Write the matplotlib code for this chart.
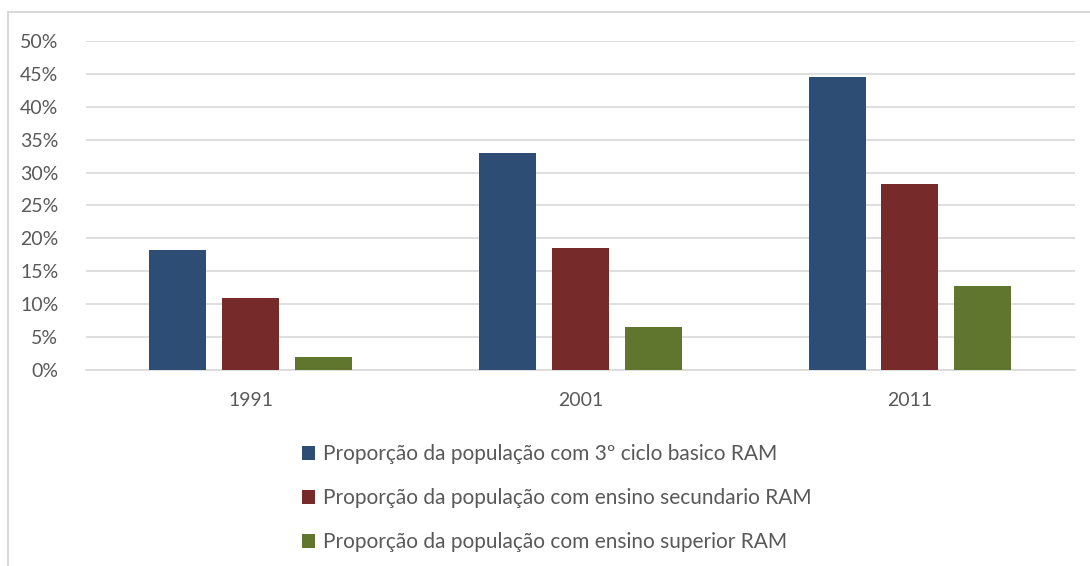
import numpy as np
import matplotlib.pyplot as plt
from matplotlib.patches import Rectangle, Patch
from matplotlib.ticker import PercentFormatter

plt.rcParams['font.family'] = ['Lato', 'DejaVu Sans']

# Dados por ano censitário
anos = ['1991', '2001', '2011']
ciclo3 = [0.182, 0.330, 0.446]
secundario = [0.110, 0.185, 0.282]
superior = [0.020, 0.066, 0.128]

series = ['Proporção da população com 3º ciclo basico RAM',
          'Proporção da população com ensino secundario RAM',
          'Proporção da população com ensino superior RAM']
cores = ['#2d4d75', '#772a2a', '#60762f']
texto = '#595959'
grelha = '#d9d9d9'

fig = plt.figure(figsize=(10.9, 5.66), dpi=100)
ax = fig.add_axes([0.0789, 0.3463, 0.907, 0.5813])

x = np.arange(len(anos))
largura = 0.173
passo = 0.221
for i, (vals, cor) in enumerate(zip([ciclo3, secundario, superior], cores)):
    ax.bar(x + (i - 1) * passo, vals, width=largura, color=cor, zorder=3)

ax.set_xlim(-0.5, 2.5)
ax.set_ylim(0, 0.5)
ax.set_yticks(np.arange(0, 0.51, 0.05))
ax.yaxis.set_major_formatter(PercentFormatter(1.0, decimals=0))
ax.set_xticks(x)
ax.set_xticklabels(anos)
ax.tick_params(axis='both', length=0, labelsize=14, colors=texto)
ax.tick_params(axis='x', pad=16)
ax.tick_params(axis='y', pad=20)
ax.grid(axis='y', color=grelha, linewidth=1.2, zorder=0)
for lado in ['top', 'right', 'left']:
    ax.spines[lado].set_visible(False)
ax.spines['bottom'].set_color(grelha)
ax.spines['bottom'].set_linewidth(1.2)

handles = [Patch(facecolor=c) for c in cores]
fig.legend(handles, series, loc='upper left', bbox_to_anchor=(0.277, 0.2155),
           frameon=False, fontsize=15, labelcolor=texto,
           handlelength=0.65, handleheight=0.65, handletextpad=0.35,
           labelspacing=1.15, borderaxespad=0, borderpad=0)

# moldura do gráfico
fig.patches.append(Rectangle((8 / 1090, -0.05), 1.1, 1 - 12 / 566 + 0.05,
                             transform=fig.transFigure, fill=False,
                             edgecolor='#d9d9d9', linewidth=1.5))

fig.savefig('out.png', dpi=100)
